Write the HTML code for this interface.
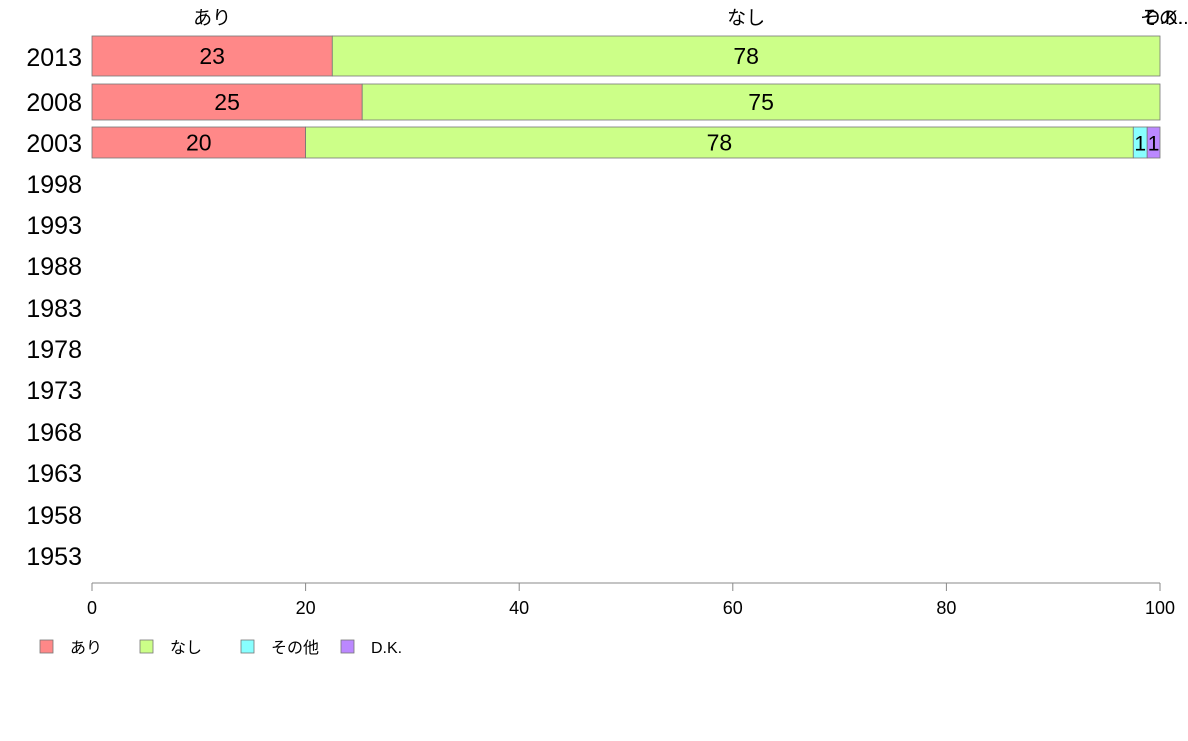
<!DOCTYPE html>
<html><head><meta charset="utf-8"><style>
body{margin:0;background:#fff;font-family:"Liberation Sans","Noto Sans CJK JP",sans-serif;}
svg text{font-family:"Liberation Sans","Noto Sans CJK JP",sans-serif;}
</style></head><body>
<svg width="1188" height="736" xmlns="http://www.w3.org/2000/svg">
<g id="g"></g>
</svg>
<script>
const years=["2013","2008","2003","1998","1993","1988","1983","1978","1973","1968","1963","1958","1953"];
const seriesNames=["あり","なし","その他","D.K."];
const colors=["#ff8888","#ccff88","#88ffff","#bb88ff"];
const ari=[22.5,25.3,20];
const nashi=[77.5,74.7,77.5];
const sonota=[0,0,1.3];
const dk=[0,0,1.2];
const ticks=[0,20,40,60,80,100];
const values=[ari,nashi,sonota,dk];
const NS="http://www.w3.org/2000/svg";
const g=document.getElementById('g');
const x=v=>92+v*10.68;
const yC=[57,102,143,184,225,266,308,349,390,432,473,515,556];
const barTop=[36,84,127], barBot=[76,120,158];
function mk(t,a,txt){const e=document.createElementNS(NS,t);for(const k in a)e.setAttribute(k,a[k]);if(txt!==undefined)e.textContent=txt;g.appendChild(e);return e;}
years.forEach((yr,i)=>{const e=mk('text',{x:82,y:yC[i]+9,'text-anchor':'end','font-size':25,fill:'#000'},yr);

});
for(let i=0;i<3;i++){let c=0;values.forEach((s,j)=>{const v=s[i];if(v<=0)return;
const r=mk('rect',{x:x(c),y:barTop[i],width:x(c+v)-x(c),height:barBot[i]-barTop[i],fill:colors[j],stroke:'#777','stroke-width':0.8});


const t=mk('text',{x:(x(c)+x(c+v))/2,y:(barTop[i]+barBot[i])/2+8,'text-anchor':'middle','font-size':v<5?21:23,fill:'#000'},Math.round(v));


c+=v;});}
// top series labels based on first bar
let c0=0;const topLbl=["あり","なし","その...","D.K."];
values.forEach((s,j)=>{const v=s[0];const cx=j<2?(x(c0)+x(c0+v))/2:(j==2?1140:1146);
const t=mk('text',{x:cx,y:24,'text-anchor':j<2?'middle':'start','font-size':19,fill:'#000'},topLbl[j]);

c0+=v;});
const ax=mk('line',{x1:92,x2:1160,y1:583,y2:583,stroke:'#888'});


ticks.forEach(tk=>{const l=mk('line',{x1:x(tk),x2:x(tk),y1:583,y2:591,stroke:'#888'});


const t=mk('text',{x:x(tk),y:614,'text-anchor':'middle','font-size':18,fill:'#000'},tk);

});
const lx=[40,140,241,341];
seriesNames.forEach((n,j)=>{const r=mk('rect',{x:lx[j],y:640,width:13,height:13,fill:colors[j],stroke:'#777','stroke-width':0.8});


const t=mk('text',{x:lx[j]+30,y:653,'font-size':16,fill:'#000'},n);

});
</script>
</body></html>
